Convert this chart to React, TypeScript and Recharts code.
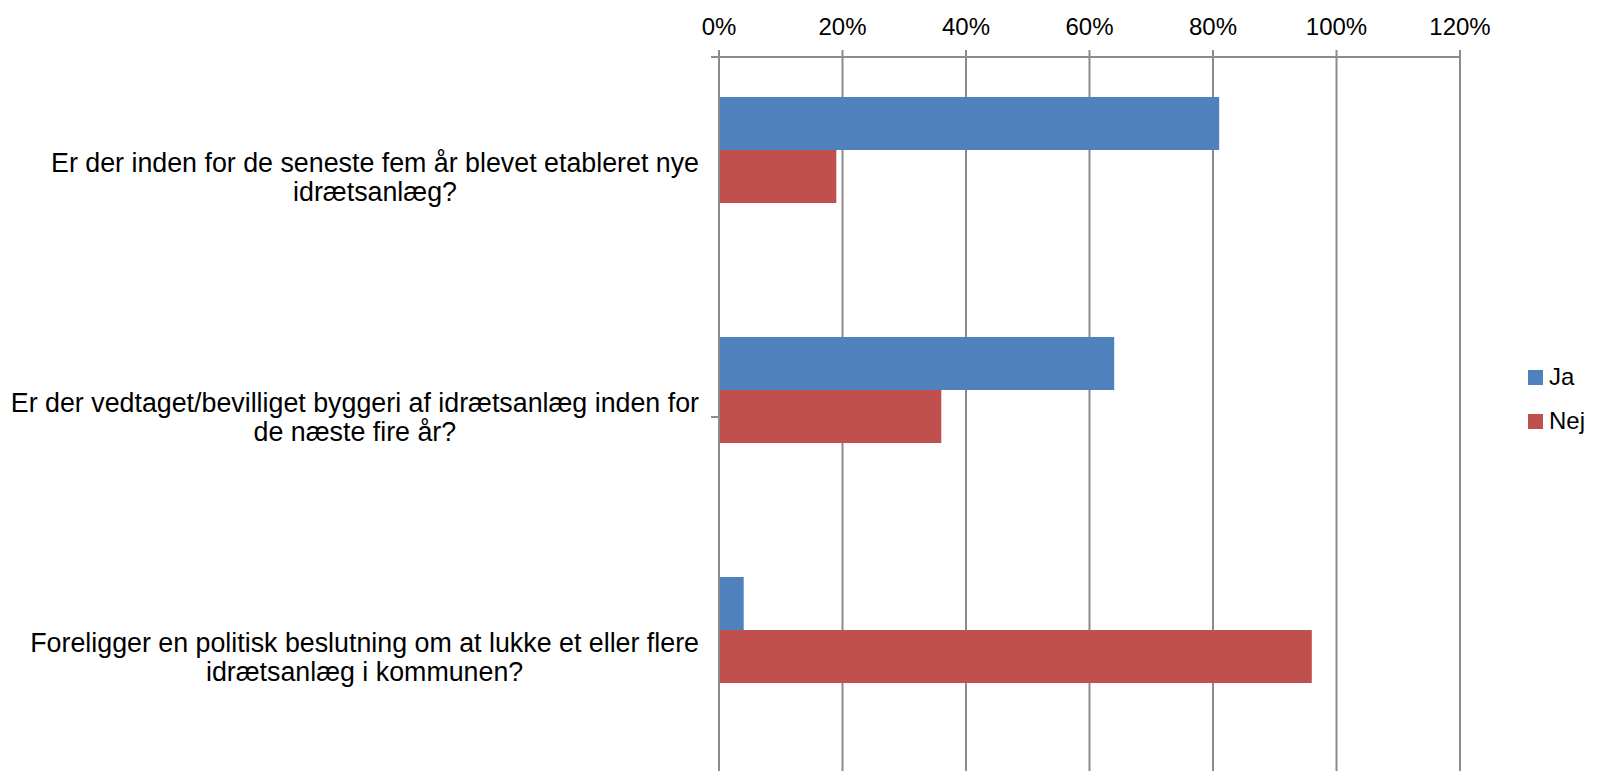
import {
    BarChart,
    Bar,
    XAxis,
    YAxis,
    CartesianGrid,
    Legend
} from "recharts";

// survey questions, "\n" marks the line break used in the original
const questions = [
    "Er der inden for de seneste fem år blevet etableret nye\nidrætsanlæg?",
    "Er der vedtaget/bevilliget byggeri af idrætsanlæg inden for\nde næste fire år?",
    "Foreligger en politisk beslutning om at lukke et eller flere\nidrætsanlæg i kommunen?"
];

const jaValues = [0.81, 0.64, 0.04];
const nejValues = [0.19, 0.36, 0.96];

const percentTicks = [0, 0.2, 0.4, 0.6, 0.8, 1.0, 1.2];
const edgeTicks = [0, 1, 2, 3];

const FONT = "'Liberation Sans', Arial, sans-serif";
const FONT_SIZE = 24;
const LABEL_SIZE = 26.8;
const GRID = "#8c8c8c";

const chartData = questions.map((q, i) => ({
    question: q,
    ja: jaValues[i],
    nej: nejValues[i],
    blank: null
}));

let measureCtx: CanvasRenderingContext2D | null = null;

function textWidth(text: string) {
    if (!measureCtx) {
        measureCtx = document.createElement("canvas").getContext("2d");
    }
    if (!measureCtx) return text.length * LABEL_SIZE * 0.5;
    measureCtx.font = `${LABEL_SIZE}px 'Liberation Sans'`;
    return measureCtx.measureText(text).width;
}

function QuestionTick(props: any) {

    const { x, y, payload } = props;

    const lines: string[] = String(payload.value).split("\n");
    const blockWidth = Math.max(...lines.map(textWidth));
    const cx = x - blockWidth / 2;
    const lineHeight = 29;
    const firstBaseline =
        y - ((lines.length - 1) * lineHeight) / 2 + LABEL_SIZE * 0.35;

    return (
        <text
            textAnchor="middle"
            fill="#000"
            fontSize={LABEL_SIZE}
            fontFamily={FONT}
        >
            {lines.map((line, i) => (
                <tspan
                    key={i}
                    x={cx}
                    y={firstBaseline + i * lineHeight}
                >
                    {line}
                </tspan>
            ))}
        </text>
    );
}

function EmptyTick() {
    return <g />;
}

function LegendBox(props: any) {

    const items = (props.payload || []).filter(
        (p: any) => p.type !== "none"
    );

    return (
        <div>
            {items.map((item: any) => (
                <div
                    key={item.value}
                    style={{
                        display: "flex",
                        alignItems: "center",
                        height: 44
                    }}
                >
                    <span
                        style={{
                            display: "inline-block",
                            width: 15,
                            height: 15,
                            background: item.color,
                            marginRight: 6
                        }}
                    />
                    <span
                        style={{
                            fontSize: FONT_SIZE,
                            color: "#000",
                            fontFamily: FONT
                        }}
                    >
                        {item.value}
                    </span>
                </div>
            ))}
        </div>
    );
}

export default function App() {

    return (

        <div
            style={{
                position: "absolute",
                left: 0,
                top: 0,
                width: 1599,
                height: 790,
                fontFamily: FONT
            }}
        >

            <BarChart
                width={1599}
                height={790}
                data={chartData}
                layout="vertical"
                margin={{ top: 0, right: 139, bottom: 13, left: 0 }}
                barCategoryGap={40}
                barGap={0}
            >

                <CartesianGrid
                    horizontal={false}
                    stroke={GRID}
                    strokeWidth={2}
                />

                <XAxis
                    type="number"
                    orientation="top"
                    domain={[0, 1.2]}
                    ticks={percentTicks}
                    tickFormatter={(v: number) => `${Math.round(v * 100)}%`}
                    height={57}
                    tickSize={7}
                    tickMargin={15}
                    tick={{ fill: "#000", fontSize: FONT_SIZE, fontFamily: FONT }}
                    tickLine={{ stroke: GRID, strokeWidth: 2 }}
                    axisLine={{ stroke: GRID, strokeWidth: 2 }}
                />

                <YAxis
                    yAxisId="cat"
                    type="category"
                    dataKey="question"
                    width={718}
                    tickLine={false}
                    tickSize={8}
                    tickMargin={11}
                    axisLine={false}
                    tick={<QuestionTick />}
                    interval={0}
                />

                {/* boundary ticks between the questions */}
                <YAxis
                    yAxisId="aEdge"
                    type="number"
                    domain={[0, 3]}
                    ticks={edgeTicks}
                    width={1}
                    tick={<EmptyTick />}
                    tickSize={8}
                    tickLine={{ stroke: GRID, strokeWidth: 2 }}
                    axisLine={{ stroke: GRID, strokeWidth: 2 }}
                />

                <Bar
                    yAxisId="cat"
                    dataKey="ja"
                    name="Ja"
                    fill="#4F81BD"
                    isAnimationActive={false}
                />

                <Bar
                    yAxisId="cat"
                    dataKey="nej"
                    name="Nej"
                    fill="#C0504D"
                    isAnimationActive={false}
                />

                <Bar
                    yAxisId="cat"
                    dataKey="blank"
                    legendType="none"
                    fill="none"
                    isAnimationActive={false}
                />

                <Legend
                    layout="vertical"
                    align="center"
                    verticalAlign="middle"
                    content={<LegendBox />}
                    wrapperStyle={{
                        left: 1528,
                        top: 355,
                        width: 71
                    }}
                />

            </BarChart>

        </div>

    );
}
